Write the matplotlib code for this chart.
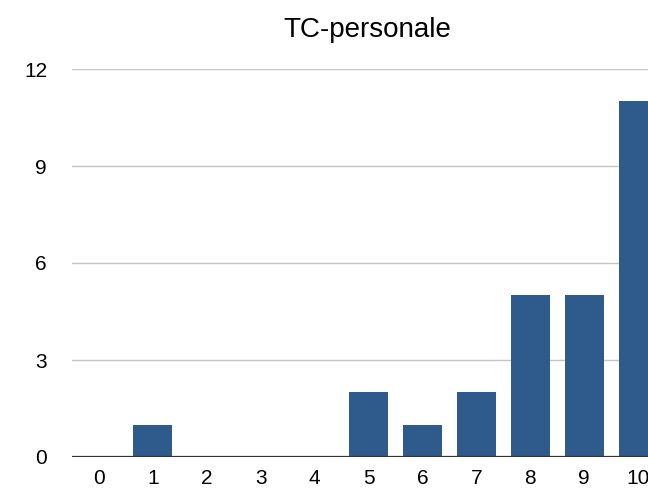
import matplotlib
matplotlib.use("Agg")
import matplotlib.pyplot as plt

# scores and how many people gave each
scores = [0, 1, 2, 3, 4, 5, 6, 7, 8, 9, 10]
counts = [0, 1, 0, 0, 0, 2, 1, 2, 5, 5, 11]
yticks = [0, 3, 6, 9, 12]

plt.rcParams['font.family'] = ['Liberation Sans', 'DejaVu Sans']

fig = plt.figure(figsize=(6.48, 4.95), dpi=100)
ax = fig.add_axes([72 / 648, 38 / 495, 593 / 648, 388 / 495])

ax.bar(scores, counts, width=0.72, color='#2E5A8C', zorder=3)

ax.set_xlim(-0.5, 10.5)
ax.set_ylim(0, 12)
ax.set_yticks(yticks)
ax.set_xticks(scores)
ax.grid(axis='y', color='#C4C4C4', linewidth=1.0, zorder=0)
ax.axhline(0, color='#333333', linewidth=1.6, zorder=4)

for s in ['top', 'right', 'left', 'bottom']:
    ax.spines[s].set_visible(False)
ax.tick_params(axis='both', length=0, labelsize=15)
ax.tick_params(axis='y', pad=18)
ax.tick_params(axis='x', pad=9)

fig.text(367 / 648, 1 - 30 / 495, 'TC-personale', ha='center', va='center', fontsize=20)

fig.savefig('out.png', dpi=100)
